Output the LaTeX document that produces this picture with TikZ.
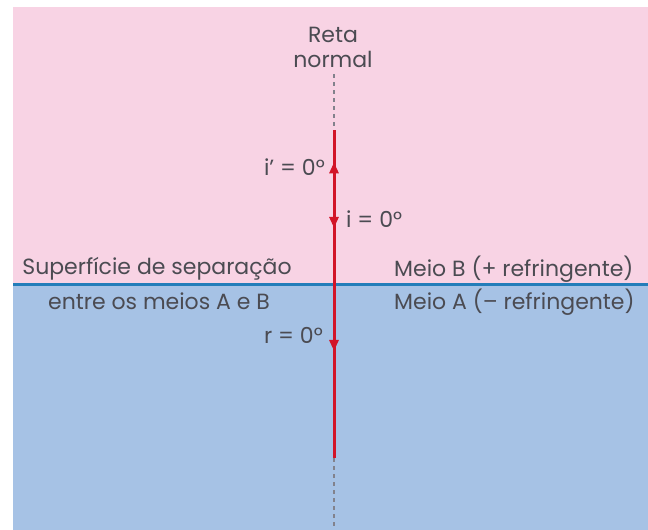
\documentclass[tikz,border=0pt]{standalone}
\usepackage{fontspec}
\setmainfont{Poppins}
\usetikzlibrary{arrows.meta,decorations.markings}
\definecolor{pinkbg}{RGB}{248,211,228}
\definecolor{bluebg}{RGB}{166,194,229}
\definecolor{sepline}{RGB}{35,125,185}
\definecolor{rayred}{RGB}{210,20,40}
\definecolor{txt}{RGB}{75,75,82}
\definecolor{dashgray}{RGB}{130,130,140}
\tikzset{
  lbl/.style={font=\fontsize{22}{25}\selectfont, text=txt, inner sep=0pt},
  ray/.style={draw=rayred, line width=3pt},
  normal/.style={draw=dashgray, line width=1.5pt, dash pattern=on 4pt off 4pt},
  arrowat/.style={postaction={decorate}, decoration={markings, mark=at position #1 with {\arrow[rayred]{Triangle[width=9pt,length=11pt]}}}}
}
\begin{document}
\begin{tikzpicture}[x=1pt,y=-1pt]
\useasboundingbox (0,0) rectangle (648,530);
\clip (0,0) rectangle (648,530);
\fill[pinkbg] (13,7) rectangle (648,284);
\fill[bluebg] (13,284) rectangle (648,530);
\coordinate (ntop) at (334,74);
\coordinate (top) at (334,130);
\coordinate (mid) at (334,284);
\coordinate (bot) at (334,458);
\coordinate (nbot) at (334,526);
\coordinate (sepL) at (13,284);
\coordinate (sepR) at (648,284);
\draw[draw=sepline, line width=3pt] (sepL) -- (sepR);
\draw[normal] (ntop) -- (top);
\draw[normal] (bot) -- (nbot);
\draw[ray, arrowat=0.79] (mid) -- (top);
\draw[ray, arrowat=0.636] (top) -- (mid);
\draw[ray, arrowat=0.385] (mid) -- (bot);
\node[lbl, anchor=base] (reta) at (333,42) {Reta};
\node[lbl, anchor=base] (normaltxt) at (333,67) {normal};
\node[lbl, anchor=base east] (iprime) at (325,175) {i' = 0°};
\node[lbl, anchor=base west] (i) at (346,227) {i = 0°};
\node[lbl, anchor=base] (sup) at (157,274) {Superfície de separação};
\node[lbl, anchor=base] (entre) at (159,309) {entre os meios A e B};
\node[lbl, anchor=base west] (meioB) at (394,276) {Meio B (+ refringente)};
\node[lbl, anchor=base west] (meioA) at (394,309) {Meio A (– refringente)};
\node[lbl, anchor=base east] (r) at (323,343) {r = 0°};
\end{tikzpicture}
\end{document}
